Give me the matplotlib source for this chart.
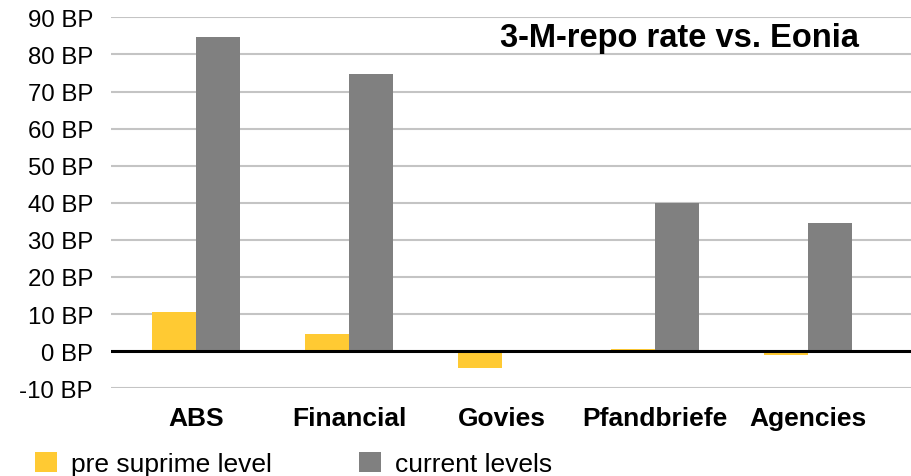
import matplotlib
matplotlib.use("Agg")
import matplotlib.pyplot as plt
import numpy as np

plt.rcParams['font.family'] = ['Liberation Sans', 'DejaVu Sans']

categories = ["ABS", "Financial", "Govies", "Pfandbriefe", "Agencies"]
pre_suprime = [10.5, 4.7, -4.5, 0.6, -0.9]
current = [84.7, 74.7, 0.0, 40.0, 34.6]
series_names = ["pre suprime level", "current levels"]
yticks = list(range(-10, 100, 10))
ytick_labels = [f"{v} BP" for v in yticks]

yellow = "#FFCA33"
grey = "#808080"

fig = plt.figure(figsize=(9.11, 4.77), dpi=100)
ax = fig.add_axes([111 / 911, 1 - 389.3 / 477, 800 / 911, (389.3 - 18.3) / 477])

x = np.arange(len(categories))
w = 0.29
b1 = ax.bar(x - w / 2, pre_suprime, width=w, color=yellow, zorder=3, label=series_names[0])
b2 = ax.bar(x + w / 2, current, width=w, color=grey, zorder=3, label=series_names[1])

ax.set_xlim(-0.555, 4.673)
ax.set_ylim(-10, 90)
ax.set_yticks(yticks)
ax.set_yticklabels(ytick_labels, fontsize=17.3)
ax.set_xticks(x)
ax.set_xticklabels(categories, fontsize=19, fontweight="bold")
ax.tick_params(axis="y", length=0, pad=13)
ax.tick_params(axis="x", length=0, pad=13)

for s in ax.spines.values():
    s.set_visible(False)
ax.grid(axis="y", color="#c4c4c4", linewidth=1.5, zorder=0)
ax.axhline(0, color="black", linewidth=2.2, zorder=4)

fig.text(500 / 911, 1 - 46.7 / 477, "3-M-repo rate vs. Eonia",
         ha="left", va="baseline", fontsize=23.5, fontweight="bold")

fig.legend(handles=[b1, b2], labels=series_names, loc="center left",
           bbox_to_anchor=(35 / 911, 1 - 465 / 477), ncol=2, frameon=False,
           fontsize=19, handlelength=0.83, handleheight=0.83, handletextpad=0.53,
           columnspacing=3.3, borderpad=0, borderaxespad=0)

fig.savefig("out.png", dpi=100)
